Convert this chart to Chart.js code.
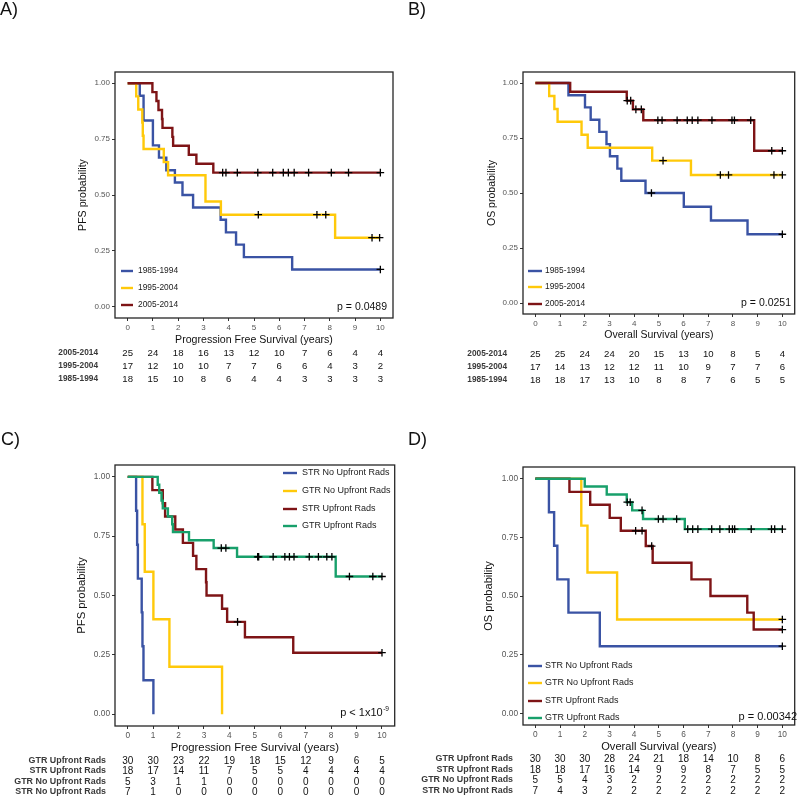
<!DOCTYPE html>
<html><head><meta charset="utf-8">
<script src="https://cdn.jsdelivr.net/npm/chart.js@4.4.1/dist/chart.umd.min.js"></script>
<style>
html,body{margin:0;padding:0;background:#fff;}
#wrap{position:relative;width:800px;height:797px;overflow:hidden;background:#fff}
#wrap canvas{position:absolute;}
</style></head><body><div id="wrap">
<canvas id="cA" width="400" height="400" style="left:0px;top:0px"></canvas>
<canvas id="cB" width="400" height="400" style="left:400px;top:0px"></canvas>
<canvas id="cC" width="400" height="397" style="left:0px;top:400px"></canvas>
<canvas id="cD" width="400" height="397" style="left:400px;top:400px"></canvas>
</div>
<script>
// ---------- shared ticks ----------
const xTicks = [0,1,2,3,4,5,6,7,8,9,10];
const yTicks = [0, 0.25, 0.5, 0.75, 1];
const COL = {blue:'#3A53A4', yellow:'#FFC90A', maroon:'#7E1416', green:'#18A06B'};
const FONT = "'Liberation Sans', Arial, Helvetica, sans-serif";

// ---------- Panel A: PFS by era ----------
const A_1985_times = [0.48,0.63,1.00,1.24,1.53,1.87,2.17,2.59,3.68,3.89,4.29,4.60,6.51];
const A_1985_surv  = [0.944,0.833,0.722,0.667,0.611,0.556,0.500,0.444,0.389,0.333,0.278,0.222,0.167];
const A_1985_cens  = [10];
const A_1995_times = [0.34,0.42,0.58,0.60,0.63,1.43,1.60,3.08,3.69,8.21];
const A_1995_surv  = [0.941,0.882,0.824,0.765,0.706,0.647,0.588,0.471,0.412,0.309];
const A_1995_cens  = [5.17,7.49,7.84,9.67,9.97];
const A_2005_times = [0.98,1.14,1.22,1.36,1.38,1.77,1.80,2.42,2.72,3.39];
const A_2005_surv  = [0.96,0.92,0.88,0.84,0.80,0.76,0.72,0.68,0.64,0.60];
const A_2005_cens  = [3.76,3.89,4.34,5.15,5.74,6.16,6.36,6.59,7.16,8.06,8.74,10];
const A_risk_2005 = [25,24,18,16,13,12,10,7,6,4,4];
const A_risk_1995 = [17,12,10,10,7,7,6,6,4,3,2];
const A_risk_1985 = [18,15,10,8,6,4,4,3,3,3,3];

// ---------- Panel B: OS by era ----------
const B_1985_times = [1.34,2.01,2.24,2.59,2.88,3.02,3.32,3.48,4.46,6.01,7.11,8.59];
const B_1985_surv  = [0.944,0.889,0.833,0.778,0.722,0.667,0.611,0.556,0.500,0.4375,0.375,0.3125];
const B_1985_cens  = [4.70,10];
const B_1995_times = [0.56,0.77,0.90,1.87,2.12,4.73,6.30];
const B_1995_surv  = [0.941,0.882,0.824,0.765,0.706,0.647,0.582];
const B_1995_cens  = [5.17,7.49,7.82,9.66,10];
const B_2005_times = [1.41,3.70,3.95,4.37,8.86];
const B_2005_surv  = [0.96,0.92,0.88,0.831,0.692];
const B_2005_cens  = [3.72,3.86,4.07,4.29,4.96,5.13,5.74,6.15,6.35,6.58,7.15,7.96,8.06,8.72,9.57,10];
const B_risk_2005 = [25,25,24,24,20,15,13,10,8,5,4];
const B_risk_1995 = [17,14,13,12,12,11,10,9,7,7,6];
const B_risk_1985 = [18,18,17,13,10,8,8,7,6,5,5];

// ---------- Panel C: PFS by resection / radiation ----------
const C_strNo_times = [0.33,0.37,0.40,0.55,0.58,0.62,1.01];
const C_strNo_surv  = [0.857,0.714,0.571,0.429,0.286,0.143,0];
const C_strNo_cens  = [];
const C_gtrNo_times = [0.58,0.67,1.01,1.64,3.71];
const C_gtrNo_surv  = [0.8,0.6,0.4,0.2,0];
const C_gtrNo_cens  = [];
const C_strUp_times = [0.97,1.38,1.47,1.87,2.17,2.57,2.70,3.08,3.10,3.71,3.91,4.61,6.51];
const C_strUp_surv  = [0.944,0.889,0.833,0.778,0.722,0.667,0.611,0.556,0.500,0.444,0.389,0.324,0.259];
const C_strUp_cens  = [4.32,10];
const C_gtrUp_times = [1.18,1.24,1.33,1.38,1.58,1.75,1.78,2.41,3.38,4.30,8.18];
const C_gtrUp_surv  = [0.967,0.933,0.900,0.867,0.833,0.800,0.767,0.733,0.700,0.663,0.580];
const C_gtrUp_cens  = [3.68,3.86,5.11,5.15,5.72,6.18,6.36,6.54,7.14,7.50,7.83,8.03,8.72,9.64,10];
const C_risk_gtrUp = [30,30,23,22,19,18,15,12,9,6,5];
const C_risk_strUp = [18,17,14,11,7,5,5,4,4,4,4];
const C_risk_gtrNo = [5,3,1,1,0,0,0,0,0,0,0];
const C_risk_strNo = [7,1,0,0,0,0,0,0,0,0,0];

// ---------- Panel D: OS by resection / radiation ----------
const D_strNo_times = [0.55,0.76,0.89,1.34,2.61];
const D_strNo_surv  = [0.857,0.714,0.571,0.429,0.286];
const D_strNo_cens  = [10];
const D_gtrNo_times = [1.86,2.11,3.31];
const D_gtrNo_surv  = [0.8,0.6,0.4];
const D_gtrNo_cens  = [10];
const D_strUp_times = [1.38,2.22,3.01,3.46,4.47,4.75,6.32,7.09,8.58,8.84];
const D_strUp_surv  = [0.944,0.889,0.833,0.778,0.713,0.642,0.571,0.500,0.429,0.357];
const D_strUp_cens  = [4.06,4.32,4.71,10];
const D_gtrUp_times = [2.00,2.89,3.70,3.92,4.36,6.05];
const D_gtrUp_surv  = [0.967,0.933,0.900,0.865,0.828,0.785];
const D_gtrUp_cens  = [3.72,3.84,4.32,4.98,5.17,5.72,6.17,6.37,6.58,7.14,7.47,7.85,7.98,8.07,8.74,9.56,9.69,10];
const D_risk_gtrUp = [30,30,30,28,24,21,18,14,10,8,6];
const D_risk_strUp = [18,18,17,16,14,9,9,8,7,5,5];
const D_risk_gtrNo = [5,5,4,3,2,2,2,2,2,2,2];
const D_risk_strNo = [7,4,3,2,2,2,2,2,2,2,2];

// ---------- helpers ----------
function kmData(times, surv, cens) {
  const pts = [{x:0, y:1}];
  times.forEach((t,i) => pts.push({x:t, y:surv[i]}));
  const lastT = times[times.length-1];
  const endT = cens.length ? Math.max(lastT, ...cens) : lastT;
  if (endT > lastT) pts.push({x:endT, y:surv[surv.length-1]});
  return pts;
}
function survAt(times, surv, t) { let s = 1; times.forEach((tt,i) => { if (tt <= t) s = surv[i]; }); return s; }
function censData(times, surv, cens) { return cens.map(t => ({x:t, y:survAt(times, surv, t)})); }

function makePanel(id, cfg) {
  const canvas = document.getElementById(id);
  const W = canvas.width, H = canvas.height;
  const n = cfg.series.length;
  const datasets = [];
  cfg.series.forEach((s, i) => {
    datasets.push({type:'line', label:s.label, data:kmData(s.times, s.surv, s.cens),
      borderColor:s.color, backgroundColor:s.color, borderWidth:2.4, stepped:true,
      pointRadius:0, fill:false, tension:0, order:n - i + 1});
    datasets.push({type:'line', label:s.label + ' censored', data:censData(s.times, s.surv, s.cens),
      showLine:false, pointStyle:'cross', pointRadius:3.8, pointBorderColor:'#000',
      pointBackgroundColor:'#000', pointBorderWidth:1.3, order:0});
  });
  const a = cfg.area;
  const extras = {
    id:'kmExtras',
    afterDraw(chart) {
      const ctx = chart.ctx, ca = chart.chartArea, xs = chart.scales.x;
      ctx.save();
      ctx.strokeStyle = '#262626'; ctx.lineWidth = 1.3;
      ctx.strokeRect(ca.left, ca.top, ca.right - ca.left, ca.bottom - ca.top);
      // legend
      const L = cfg.legend;
      ctx.textBaseline = 'middle'; ctx.textAlign = 'left';
      ctx.font = L.font + 'px ' + FONT;
      cfg.series.forEach((s, i) => {
        const y = L.ys[i];
        ctx.strokeStyle = s.color; ctx.lineWidth = 2.4;
        ctx.beginPath(); ctx.moveTo(L.x1, y); ctx.lineTo(L.x2, y); ctx.stroke();
        ctx.fillStyle = '#1a1a1a'; ctx.fillText(s.label, L.tx, y);
      });
      // p value
      const P = cfg.pval;
      ctx.fillStyle = '#111';
      if (P.sup) {
        ctx.font = (P.font*0.6) + 'px ' + FONT;
        const ws = ctx.measureText(P.sup).width;
        ctx.textAlign = 'right';
        ctx.fillText(P.sup, P.x, P.y - P.font*0.35);
        ctx.font = P.font + 'px ' + FONT;
        ctx.fillText(P.text, P.x - ws - 0.5, P.y);
      } else {
        ctx.font = P.font + 'px ' + FONT; ctx.textAlign = 'right';
        ctx.fillText(P.text, P.x, P.y);
      }
      // risk table
      const R = cfg.risk;
      R.rows.forEach((r, i) => {
        const y = R.ys[i];
        ctx.font = 'bold ' + R.labelFont + 'px ' + FONT; ctx.textAlign = 'right'; ctx.fillStyle = '#3a3a3a';
        ctx.fillText(r.label, R.labelX, y);
        ctx.font = R.numFont + 'px ' + FONT; ctx.textAlign = 'center'; ctx.fillStyle = '#111';
        r.values.forEach((v, j) => ctx.fillText(String(v), xs.getPixelForValue(xTicks[j]), y));
      });
      // panel tag
      ctx.font = cfg.tag.font + 'px ' + FONT; ctx.textAlign = 'left'; ctx.fillStyle = '#111';
      ctx.fillText(cfg.tag.text, cfg.tag.x, cfg.tag.y);
      ctx.restore();
    }
  };
  const tickCommon = {color:'#555', font:{family:FONT, size:cfg.tickFont}, padding:2};
  const gridCommon = {display:true, drawOnChartArea:false, drawTicks:true, tickLength:3, color:'#333', lineWidth:1};
  new Chart(canvas, {
    type:'line',
    data:{datasets},
    options:{
      responsive:false, animation:false, events:[],
      layout:{padding:{left:0, top:a.top, right:W - a.right, bottom:H - a.bottom - cfg.xH}},
      scales:{
        x:{type:'linear', min:-0.5, max:10.5,
           afterBuildTicks:s => { s.ticks = xTicks.map(v => ({value:v})); },
           afterFit:s => { s.height = cfg.xH; },
           ticks:Object.assign({maxRotation:0, autoSkip:false, callback:v => String(v)}, tickCommon),
           grid:gridCommon, border:{display:false},
           title:{display:true, text:cfg.xTitle, color:'#111', font:{family:FONT, size:cfg.titleFont}, padding:{top:0, bottom:2}}},
        y:{type:'linear', min:-0.05, max:1.05,
           afterBuildTicks:s => { s.ticks = yTicks.map(v => ({value:v})); },
           afterFit:s => { s.width = a.left; },
           ticks:Object.assign({autoSkip:false, callback:v => Number(v).toFixed(2)}, tickCommon),
           grid:gridCommon, border:{display:false},
           title:{display:true, text:cfg.yTitle, color:'#111', font:{family:FONT, size:cfg.titleFont}, padding:{top:cfg.yTitleX - cfg.titleFont*0.6, bottom:0}}}
      },
      plugins:{legend:{display:false}, tooltip:{enabled:false}}
    },
    plugins:[extras]
  });
}

const eraSeries = (p) => [
  {label:'1985-1994', color:COL.blue,   times:p.t85, surv:p.s85, cens:p.c85},
  {label:'1995-2004', color:COL.yellow, times:p.t95, surv:p.s95, cens:p.c95},
  {label:'2005-2014', color:COL.maroon, times:p.t05, surv:p.s05, cens:p.c05}
];

makePanel('cA', {
  area:{left:115, top:72, right:393, bottom:318}, xH:30,
  xTitle:'Progression Free Survival (years)', yTitle:'PFS probability', yTitleX:83,
  titleFont:10.6, tickFont:8,
  series:eraSeries({t85:A_1985_times,s85:A_1985_surv,c85:A_1985_cens,t95:A_1995_times,s95:A_1995_surv,c95:A_1995_cens,t05:A_2005_times,s05:A_2005_surv,c05:A_2005_cens}),
  legend:{x1:121, x2:133, tx:138, ys:[271,288,305], font:8.4},
  pval:{text:'p = 0.0489', x:387, y:307, font:10.5},
  risk:{labelX:98, ys:[353,366,379], labelFont:8.3, numFont:9.6,
        rows:[{label:'2005-2014', values:A_risk_2005},{label:'1995-2004', values:A_risk_1995},{label:'1985-1994', values:A_risk_1985}]},
  tag:{text:'A)', x:0, y:10, font:18}
});

makePanel('cB', {
  area:{left:123, top:72, right:396, bottom:314}, xH:29,
  xTitle:'Overall Survival (years)', yTitle:'OS probability', yTitleX:92,
  titleFont:10.5, tickFont:8,
  series:eraSeries({t85:B_1985_times,s85:B_1985_surv,c85:B_1985_cens,t95:B_1995_times,s95:B_1995_surv,c95:B_1995_cens,t05:B_2005_times,s05:B_2005_surv,c05:B_2005_cens}),
  legend:{x1:128, x2:142, tx:145, ys:[271,287,304], font:8.4},
  pval:{text:'p = 0.0251', x:391, y:303, font:10.5},
  risk:{labelX:107, ys:[354,367,380], labelFont:8.3, numFont:9.6,
        rows:[{label:'2005-2014', values:B_risk_2005},{label:'1995-2004', values:B_risk_1995},{label:'1985-1994', values:B_risk_1985}]},
  tag:{text:'B)', x:8, y:10, font:18}
});

const trtSeries = (p) => [
  {label:'STR No Upfront Rads',  color:COL.blue,   times:p.t1, surv:p.s1, cens:p.c1},
  {label:'GTR No Upfront Rads',  color:COL.yellow, times:p.t2, surv:p.s2, cens:p.c2},
  {label:'STR Upfront Rads',     color:COL.maroon, times:p.t3, surv:p.s3, cens:p.c3},
  {label:'GTR Upfront Rads',     color:COL.green,  times:p.t4, surv:p.s4, cens:p.c4}
];

makePanel('cC', {
  area:{left:115, top:65, right:395, bottom:326}, xH:31,
  xTitle:'Progression Free Survival (years)', yTitle:'PFS probability', yTitleX:82,
  titleFont:11.3, tickFont:8.3,
  series:trtSeries({t1:C_strNo_times,s1:C_strNo_surv,c1:C_strNo_cens,t2:C_gtrNo_times,s2:C_gtrNo_surv,c2:C_gtrNo_cens,
                    t3:C_strUp_times,s3:C_strUp_surv,c3:C_strUp_cens,t4:C_gtrUp_times,s4:C_gtrUp_surv,c4:C_gtrUp_cens}),
  legend:{x1:283, x2:297, tx:302, ys:[73,91,109,126], font:9},
  pval:{text:'p < 1x10', sup:'-9', x:389, y:313, font:11},
  risk:{labelX:106, ys:[361,371,382,392], labelFont:8.9, numFont:10,
        rows:[{label:'GTR Upfront Rads', values:C_risk_gtrUp},{label:'STR Upfront Rads', values:C_risk_strUp},
              {label:'GTR No Upfront Rads', values:C_risk_gtrNo},{label:'STR No Upfront Rads', values:C_risk_strNo}]},
  tag:{text:'C)', x:1, y:40, font:18}
});

makePanel('cD', {
  area:{left:123, top:67, right:398, bottom:325}, xH:31,
  xTitle:'Overall Survival (years)', yTitle:'OS probability', yTitleX:89,
  titleFont:11.1, tickFont:8.3,
  series:trtSeries({t1:D_strNo_times,s1:D_strNo_surv,c1:D_strNo_cens,t2:D_gtrNo_times,s2:D_gtrNo_surv,c2:D_gtrNo_cens,
                    t3:D_strUp_times,s3:D_strUp_surv,c3:D_strUp_cens,t4:D_gtrUp_times,s4:D_gtrUp_surv,c4:D_gtrUp_cens}),
  legend:{x1:128, x2:142, tx:145, ys:[266,283,301,318], font:9},
  pval:{text:'p = 0.00342', x:397, y:317, font:11},
  risk:{labelX:113, ys:[359,370,380,391], labelFont:8.9, numFont:10,
        rows:[{label:'GTR Upfront Rads', values:D_risk_gtrUp},{label:'STR Upfront Rads', values:D_risk_strUp},
              {label:'GTR No Upfront Rads', values:D_risk_gtrNo},{label:'STR No Upfront Rads', values:D_risk_strNo}]},
  tag:{text:'D)', x:8, y:40, font:18}
});
</script>
</body></html>
